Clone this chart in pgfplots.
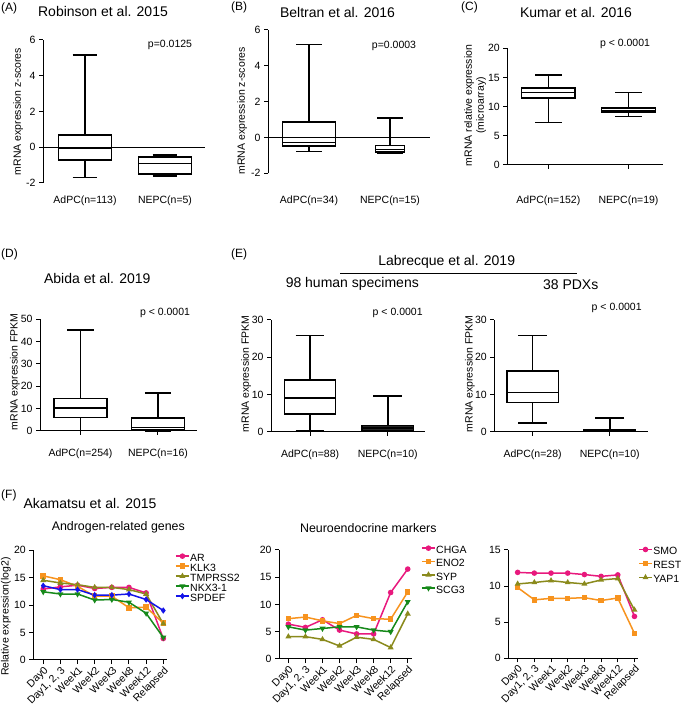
\documentclass[border=0pt]{standalone}
\usepackage{fontspec}
\setmainfont{Liberation Sans}
\usepackage{pgfplots}
\usepackage{pgfplotstable}
\pgfplotsset{compat=1.18}
\usepgfplotslibrary{statistics}

\definecolor{cpink}{HTML}{E8197D}
\definecolor{corange}{HTML}{F7931E}
\definecolor{colive}{HTML}{8A8A1C}
\definecolor{cgreen}{HTML}{16891A}
\definecolor{cblue}{HTML}{1414E8}

\newcommand{\fs}{\fontsize{10.5}{12}\selectfont}
\newcommand{\bp}[8]{\addplot[draw=black, line width=1.6pt, boxplot/draw direction=y, boxplot prepared={lower whisker=#1, lower quartile=#2, median=#3, upper quartile=#4, upper whisker=#5, draw position=#6, box extend=#7, whisker extend=#8}] coordinates {};}

\pgfplotstableread{
x AR KLK TMP NKX SPD
0 12.9 15.3 14.5 12.4 13.5
1 13.3 14.6 14.0 12.0 12.8
2 13.6 13.4 13.7 12.0 12.8
3 13.0 11.6 13.2 10.9 11.8
4 13.2 11.6 13.2 11.0 11.8
5 13.2 9.5 12.8 10.5 12.0
6 12.2 9.6 12.0 8.5 11.0
7 3.9 6.7 6.6 4.1 9.0
}\tabFa
\pgfplotstableread{
x CHGA ENO SYP SCG
0 6.4 7.4 4.1 5.9
1 5.8 7.7 4.1 5.3
2 7.2 7.0 3.6 5.6
3 5.3 6.5 2.4 5.9
4 4.6 8.0 4.0 5.9
5 4.6 7.4 3.6 5.3
6 12.2 7.3 2.1 5.0
7 16.5 12.3 8.3 10.5
}\tabFb
\pgfplotstableread{
x SMO REST YAP
0 11.9 9.8 10.3
1 11.8 8.1 10.5
2 11.8 8.3 10.75
3 11.8 8.3 10.5
4 11.6 8.4 10.3
5 11.35 8.0 10.85
6 11.55 8.35 11.05
7 5.8 3.45 6.7
}\tabFc

\pgfplotsset{
  gp/.style={
    scale only axis, anchor=south west,
    axis y line*=left, axis x line*=bottom,
    axis line style={line width=1pt,-},
    tick style={line width=1pt, black},
    tick align=outside, major tick length=4pt,
    tick label style={font=\fs},
    label style={font=\fs},
    /pgf/number format/assume math mode=true,
    clip=false,
  },
  zl/.style={x axis line style={draw=none}, xtick style={draw=none},
    extra y ticks={0}, extra y tick labels={},
    extra y tick style={grid=major, major grid style={black,line width=1pt}}},
  fl/.style={gp, xmin=-0.58, xmax=7.2, ymin=0, xtick={0,...,7},
    xticklabels={Day0,{Day1, 2, 3},Week1,Week2,Week3,Week8,Week12,Relapsed},
    xticklabel style={rotate=45, anchor=north east, inner sep=1pt},
    every axis plot/.append style={line width=1.5pt, mark size=2pt, mark options={solid}},
    legend style={draw=none, fill=none, anchor=north west, font=\fs,
      inner sep=0pt, nodes={inner sep=0.5pt, text height=7pt, text depth=2pt},
      /tikz/every even column/.append style={column sep=0pt}},
    legend cell align=left,
    legend image code/.code={\draw[##1, mark repeat=2, mark phase=2] plot coordinates {(0pt,3pt) (6.5pt,3pt) (13pt,3pt)};},
  },
}

\begin{document}
\begin{tikzpicture}
\useasboundingbox (0,0) rectangle (683pt,704pt);

% ---------- A ----------
\begin{axis}[gp, zl, at={(43pt,521pt)}, width=162pt, height=143pt,
  xmin=0.475, xmax=2.5, ymin=-2, ymax=6, ytick={-2,0,...,6},
  xtick={1,2}, xticklabels={AdPC(n=113),NEPC(n=5)}, xticklabel style={yshift=-5.5pt},
  ylabel={mRNA expression z-scores}, ylabel style={at={(axis description cs:-0.154,0.5)}, anchor=center}]
\bp{-1.7}{-0.7}{-0.08}{0.67}{5.15}{1}{0.66}{0.31}
\bp{-1.6}{-1.5}{-0.92}{-0.55}{-0.45}{2}{0.66}{0.31}
\end{axis}

% ---------- B ----------
\begin{axis}[gp, zl, at={(268pt,530.7pt)}, width=162pt, height=143.3pt,
  xmin=0.494, xmax=2.494, ymin=-2, ymax=6, ytick={-2,0,...,6},
  xtick={1,2}, xticklabels={AdPC(n=34),NEPC(n=15)}, xticklabel style={yshift=-15.5pt},
  ylabel={mRNA expression z-scores}, ylabel style={at={(axis description cs:-0.16,0.435)}, anchor=center}]
\bp{-0.78}{-0.46}{-0.28}{0.88}{5.2}{1}{0.65}{0.31}
\bp{-0.86}{-0.82}{-0.68}{-0.45}{1.08}{2}{0.36}{0.31}
\end{axis}

% ---------- C ----------
\begin{axis}[gp, at={(507.3pt,539pt)}, width=155.7pt, height=116.7pt,
  xmin=0.4875, xmax=2.43, ymin=0, ymax=20, ytick={0,5,...,20},
  xtick={1,2}, xticklabels={AdPC(n=152),NEPC(n=19)}, xticklabel style={yshift=-23.5pt},
  ylabel={mRNA relative expression\\(microarray)}, ylabel style={align=center, at={(axis description cs:-0.206,0.51)}, anchor=center}]
\bp{7.26}{11.5}{12.4}{13.2}{15.4}{1}{0.67}{0.33}
\bp{8.28}{8.97}{9.3}{9.72}{12.4}{2}{0.67}{0.33}
\end{axis}

% ---------- D ----------
\begin{axis}[gp, at={(40pt,273pt)}, width=156.7pt, height=111.7pt,
  xmin=0.477, xmax=2.5, ymin=0, ymax=50, ytick={0,10,...,50},
  xtick={1,2}, xticklabels={AdPC(n=254),NEPC(n=16)}, xticklabel style={yshift=-10pt},
  ylabel={mRNA expression FPKM}, ylabel style={at={(axis description cs:-0.16,0.53)}, anchor=center}]
\bp{0.3}{6.1}{10.2}{14.6}{45.2}{1}{0.68}{0.34}
\bp{0.1}{0.45}{1.5}{5.7}{17.1}{2}{0.68}{0.34}
\end{axis}

% ---------- E1 ----------
\begin{axis}[gp, at={(271pt,272.3pt)}, width=154pt, height=111.7pt,
  xmin=0.497, xmax=2.48, ymin=0, ymax=30, ytick={0,10,...,30},
  xtick={1,2}, xticklabels={AdPC(n=88),NEPC(n=10)}, xticklabel style={yshift=-10.5pt},
  ylabel={mRNA expression FPKM}, ylabel style={at={(axis description cs:-0.162,0.517)}, anchor=center}]
\bp{0.2}{4.7}{9.0}{13.9}{25.8}{1}{0.66}{0.37}
\addplot[draw=black, fill=black!85, line width=1.6pt, boxplot/draw direction=y, boxplot prepared={lower whisker=0.1, lower quartile=0.3, median=1.0, upper quartile=1.7, upper whisker=9.6, draw position=2, box extend=0.66, whisker extend=0.37}] coordinates {};
\end{axis}

% ---------- E2 ----------
\begin{axis}[gp, at={(494.3pt,272.3pt)}, width=154pt, height=111.7pt,
  xmin=0.504, xmax=2.5, ymin=0, ymax=30, ytick={0,10,...,30},
  xtick={1,2}, xticklabels={AdPC(n=28),NEPC(n=10)}, xticklabel style={yshift=-10.5pt},
  ylabel={mRNA expression FPKM}, ylabel style={at={(axis description cs:-0.158,0.517)}, anchor=center}]
\bp{2.4}{7.8}{10.5}{16.3}{25.8}{1}{0.67}{0.37}
\addplot[draw=black, fill=black, line width=1.6pt, boxplot/draw direction=y, boxplot prepared={lower whisker=0.0, lower quartile=0.1, median=0.3, upper quartile=0.6, upper whisker=3.6, draw position=2, box extend=0.67, whisker extend=0.37}] coordinates {};
\end{axis}

% ---------- F1 ----------
\begin{axis}[fl, at={(33.3pt,44pt)}, width=133.4pt, height=110pt,
  ymax=20, ytick={0,5,...,20},
  ylabel={Relative expression(log2)}, ylabel style={at={(axis description cs:-0.205,0.394)}, anchor=center},
  legend style={at={(1.062,0.964)}}]
\addplot[cpink, mark=*] table[x=x, y=AR] {\tabFa};
\addplot[corange, mark=square*] table[x=x, y=KLK] {\tabFa};
\addplot[colive, mark=triangle*] table[x=x, y=TMP] {\tabFa};
\addplot[cgreen, mark=triangle*, mark options={rotate=180}] table[x=x, y=NKX] {\tabFa};
\addplot[cblue, mark=diamond*] table[x=x, y=SPD] {\tabFa};
\legend{AR,KLK3,TMPRSS2,NKX3-1,SPDEF}
\end{axis}

% ---------- F2 ----------
\begin{axis}[fl, at={(279pt,45pt)}, width=133pt, height=109pt,
  xmin=-0.55, xmax=7.25, ymax=20, ytick={0,5,...,20},
  legend style={at={(1.068,1.037)}, row sep=3.3pt}]
\addplot[cpink, mark=*] table[x=x, y=CHGA] {\tabFb};
\addplot[corange, mark=square*] table[x=x, y=ENO] {\tabFb};
\addplot[colive, mark=triangle*] table[x=x, y=SYP] {\tabFb};
\addplot[cgreen, mark=triangle*, mark options={rotate=180}] table[x=x, y=SCG] {\tabFb};
\legend{CHGA,ENO2,SYP,SCG3}
\end{axis}

% ---------- F3 ----------
\begin{axis}[fl, at={(508.3pt,45.7pt)}, width=130pt, height=108.3pt,
  xmin=-0.56, xmax=7.23, ymax=15, ytick={0,5,...,15},
  legend style={at={(0.998,1.025)}, row sep=4pt}]
\addplot[cpink, mark=*] table[x=x, y=SMO] {\tabFc};
\addplot[corange, mark=square*] table[x=x, y=REST] {\tabFc};
\addplot[colive, mark=triangle*] table[x=x, y=YAP] {\tabFc};
\legend{SMO,REST,YAP1}
\end{axis}

% ---------- texts ----------
\begin{scope}[every node/.style={inner sep=0pt}]
\node[anchor=west, font=\fontsize{12}{14}\selectfont] at (1pt,696pt) {(A)};
\node[font=\fontsize{14}{16}\selectfont] at (103pt,692pt) {Robinson et al. 2015};
\node[font=\fs] at (170pt,659pt) {p=0.0125};
\node[anchor=west, font=\fontsize{12}{14}\selectfont] at (231pt,697pt) {(B)};
\node[font=\fontsize{14}{16}\selectfont] at (337.5pt,691.7pt) {Beltran et al. 2016};
\node[font=\fs] at (394pt,658.3pt) {p=0.0003};
\node[anchor=west, font=\fontsize{12}{14}\selectfont] at (461pt,696.7pt) {(C)};
\node[font=\fontsize{14}{16}\selectfont] at (576pt,691.7pt) {Kumar et al. 2016};
\node[font=\fs] at (625pt,659.7pt) {p < 0.0001};
\node[anchor=west, font=\fontsize{12}{14}\selectfont] at (1pt,450pt) {(D)};
\node[font=\fontsize{14}{16}\selectfont] at (97.3pt,425pt) {Abida et al. 2019};
\node[font=\fs] at (165pt,391.3pt) {p < 0.0001};
\node[anchor=west, font=\fontsize{12}{14}\selectfont] at (231pt,450pt) {(E)};
\node[font=\fontsize{14}{16}\selectfont] at (446.7pt,442.3pt) {Labrecque et al. 2019};
\draw[line width=0.9pt] (340pt,430.7pt) -- (576.7pt,430.7pt);
\node[font=\fontsize{14}{16}\selectfont] at (352.3pt,419.7pt) {98 human specimens};
\node[font=\fontsize{14}{16}\selectfont] at (570.7pt,419.7pt) {38 PDXs};
\node[font=\fs] at (397.7pt,391.3pt) {p < 0.0001};
\node[font=\fs] at (616.7pt,395.7pt) {p < 0.0001};
\node[anchor=west, font=\fontsize{12}{14}\selectfont] at (1pt,209pt) {(F)};
\node[font=\fontsize{14}{16}\selectfont] at (90pt,200.7pt) {Akamatsu et al. 2015};
\node[font=\fontsize{12.4}{14}\selectfont] at (118.3pt,176.3pt) {Androgen-related genes};
\node[font=\fontsize{12.4}{14}\selectfont] at (368.3pt,176.3pt) {Neuroendocrine markers};
\end{scope}
\end{tikzpicture}
\end{document}
